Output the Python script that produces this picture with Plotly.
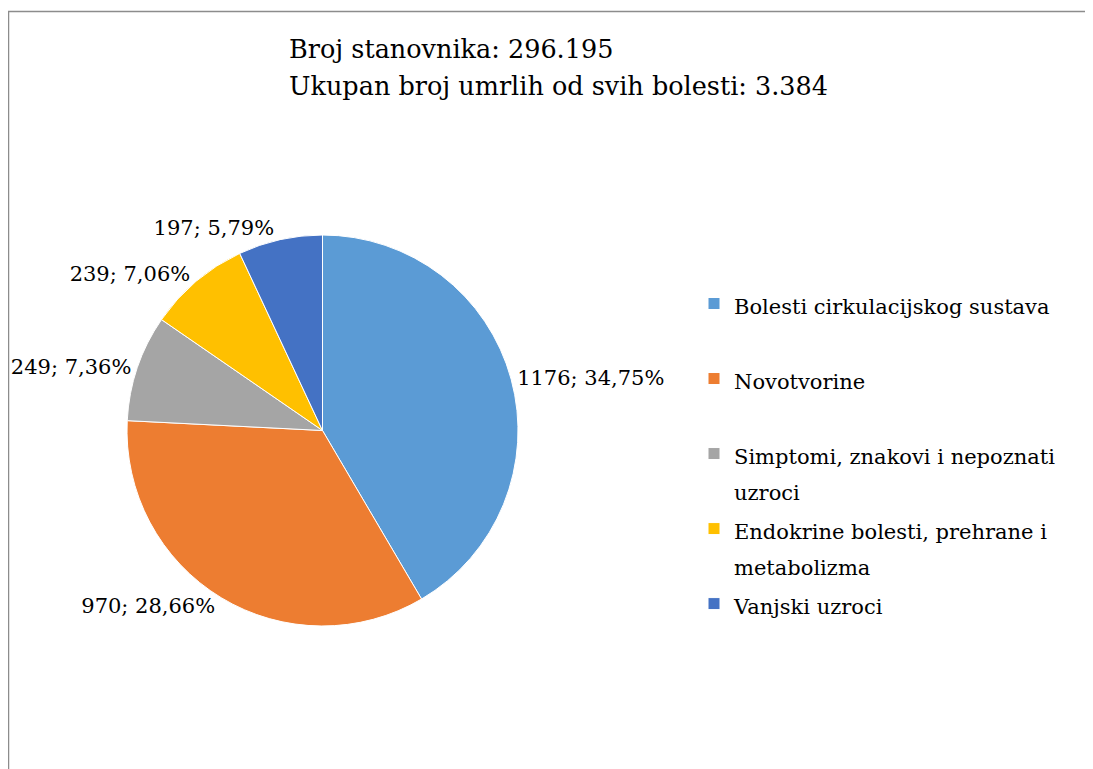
import plotly.graph_objects as go

W, H = 1093, 769
OFF = 8  # browser body margin

categories = [
    "Bolesti cirkulacijskog sustava",
    "Novotvorine",
    "Simptomi, znakovi i nepoznati uzroci",
    "Endokrine bolesti, prehrane i metabolizma",
    "Vanjski uzroci",
]
legend_lines = [
    ["Bolesti cirkulacijskog sustava", " "],
    ["Novotvorine", " "],
    ["Simptomi, znakovi i nepoznati", "uzroci"],
    ["Endokrine bolesti, prehrane i", "metabolizma"],
    ["Vanjski uzroci", " "],
]
deaths = [1176, 970, 249, 239, 197]
percent_labels = ["34,75%", "28,66%", "7,36%", "7,06%", "5,79%"]
colors = ["#5B9BD5", "#ED7D31", "#A5A5A5", "#FFC000", "#4472C4"]
title_lines = ["Broj stanovnika: 296.195", "Ukupan broj umrlih od svih bolesti: 3.384"]

FONT = "DejaVu Serif"
LEGEND_TEXT_PX = 21

def px_x(x):
    return (x - OFF) / W

def px_y(y):
    return 1 - (y - OFF) / H

legend_labels = [
    "<br>".join(f"<span style='font-size:{LEGEND_TEXT_PX}px'>{t}</span>" for t in lines)
    for lines in legend_lines
]
texts = [f"{v}; {p}" for v, p in zip(deaths, percent_labels)]

cx, cy, r = 322.5, 430.5, 195.5

fig = go.Figure(
    go.Pie(
        labels=legend_labels,
        values=deaths,
        text=texts,
        customdata=categories,
        textinfo="text",
        textposition="outside",
        sort=False,
        direction="clockwise",
        rotation=0,
        marker=dict(colors=colors, line=dict(color="white", width=1)),
        outsidetextfont=dict(family=FONT, size=21, color="black"),
        domain=dict(x=[px_x(cx - r), px_x(cx + r)], y=[px_y(cy + r), px_y(cy - r)]),
        hovertemplate="%{customdata}: %{value}<extra></extra>",
    )
)

annotations = []
for line, yc in zip(title_lines, [49, 86]):
    annotations.append(dict(
        text=line, x=px_x(287), y=px_y(yc), xref="paper", yref="paper",
        xanchor="left", yanchor="middle", showarrow=False,
        font=dict(family=FONT, size=25.5, color="black"),
    ))

fig.update_layout(
    width=W, height=H,
    margin=dict(l=0, r=0, t=0, b=0, autoexpand=False),
    paper_bgcolor="white",
    plot_bgcolor="white",
    showlegend=True,
    legend=dict(
        x=px_x(694), y=px_y(279), xanchor="left", yanchor="top",
        font=dict(family=FONT, size=27.7, color="black"),
        valign="top", bgcolor="rgba(0,0,0,0)", borderwidth=0,
    ),
    annotations=annotations,
    shapes=[dict(
        type="rect", xref="paper", yref="paper",
        x0=px_x(8.5), x1=1.05, y0=-0.05, y1=px_y(11.5),
        line=dict(color="#8C8C8C", width=1.5), fillcolor="rgba(0,0,0,0)",
        layer="below",
    )],
)

fig.write_html("out.html")
